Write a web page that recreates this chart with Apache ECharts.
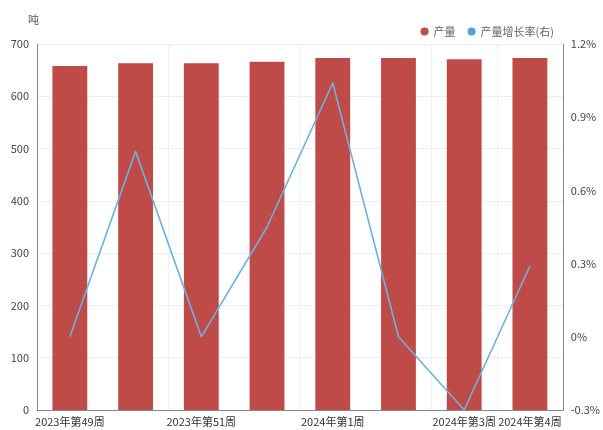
<!DOCTYPE html>
<html>
<head>
<meta charset="utf-8">
<script src="https://cdn.jsdelivr.net/npm/echarts@6/dist/echarts.min.js"></script>
<style>
  html, body { margin: 0; padding: 0; background: #fff; }
  #chart { width: 603px; height: 430px; }
</style>
</head>
<body>
<div id="chart"></div>
<script>
// Weekly output (tonnes) and week-on-week growth (%)
const categories = ['2023年第49周', '2023年第50周', '2023年第51周', '2023年第52周',
                    '2024年第1周', '2024年第2周', '2024年第3周', '2024年第4周'];
const output = [658, 663, 663, 666, 673, 673, 671, 673];
const growth = [0, 0.76, 0, 0.45, 1.04, 0, -0.3, 0.29];
const leftTicks = { min: 0, max: 700, interval: 100 };
const rightTicks = { min: -0.3, max: 1.2, interval: 0.3 };
const shownLabels = [0, 2, 4, 6, 7];

const chart = echarts.init(document.getElementById('chart'));
const font = '"Noto Sans CJK SC", "Noto Sans", sans-serif';

chart.setOption({
  animation: false,
  textStyle: { fontFamily: font },
  grid: { left: 37, right: 38, top: 44, bottom: 20, containLabel: false },
  legend: {
    right: 44, top: 21,
    itemWidth: 8, itemHeight: 8, itemGap: 12,
    icon: 'circle',
    textStyle: { fontSize: 11, color: '#666', fontFamily: font },
    data: ['产量', '产量增长率(右)']
  },
  graphic: [{
    type: 'text', left: 28, top: 14,
    style: { text: '吨', fontSize: 11, fill: '#555', fontFamily: font }
  }],
  xAxis: {
    type: 'category',
    data: categories,
    axisLine: { lineStyle: { color: '#888', width: 1 } },
    axisTick: { show: false },
    splitLine: { show: true, lineStyle: { color: '#f0f0f0' } },
    axisLabel: {
      interval: (i) => shownLabels.includes(i),
      color: '#333', fontSize: 11, margin: 6, fontFamily: font
    }
  },
  yAxis: [{
    type: 'value',
    min: leftTicks.min, max: leftTicks.max, interval: leftTicks.interval,
    axisLine: { show: true, lineStyle: { color: '#888' } },
    axisTick: { show: false },
    splitLine: { lineStyle: { color: '#eeeeee' } },
    axisLabel: { color: '#444', fontSize: 11, margin: 8 }
  }, {
    type: 'value',
    min: rightTicks.min, max: rightTicks.max, interval: rightTicks.interval,
    axisLine: { show: true, lineStyle: { color: '#888' } },
    axisTick: { show: false },
    splitLine: { show: false },
    axisLabel: {
      color: '#444', fontSize: 11, margin: 8,
      formatter: (v) => (Math.round(v * 10) / 10) + '%'
    }
  }],
  series: [{
    name: '产量',
    type: 'bar',
    data: output,
    barWidth: '53%',
    itemStyle: { color: '#BF4B48' }
  }, {
    name: '产量增长率(右)',
    type: 'line',
    yAxisIndex: 1,
    data: growth,
    symbol: 'none',
    lineStyle: { color: '#6FB1DC', width: 1.6 },
    itemStyle: { color: '#4FA3DC' }
  }]
});
</script>
</body>
</html>
